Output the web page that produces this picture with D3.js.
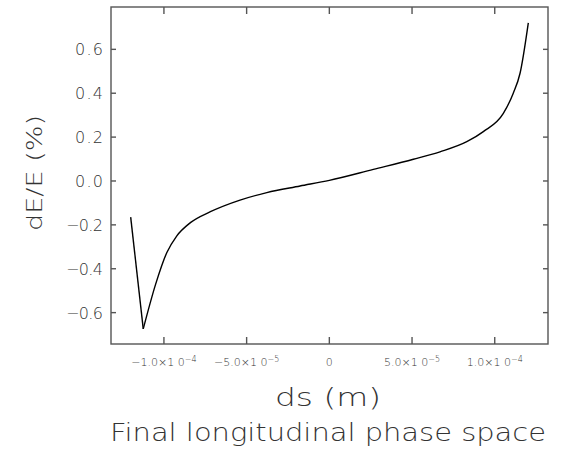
<!DOCTYPE html>
<html>
<head>
<meta charset="utf-8">
<script src="https://cdn.jsdelivr.net/npm/d3@7"></script>
<style>
  body { margin: 0; background: #fff; }
  text { font-family: "DejaVu Sans ExtraLight", "DejaVu Sans", sans-serif; font-weight: 200; fill: #333; }
</style>
</head>
<body>
<svg id="chart" width="567" height="449"></svg>
<script>
// curve: ds (m) vs dE/E (%)
const dsValues = [-1.201e-4, -1.125e-4, -1.05e-4, -9.83e-5, -9.23e-5, -8.40e-5, -7.19e-5, -5.40e-5, -3.78e-5, -1.77e-5, 0,
    2.66e-5, 5.08e-5, 6.69e-5, 8.31e-5, 9.31e-5, 1.052e-4, 1.112e-4, 1.153e-4, 1.203e-4];
const dEValues = [-0.165, -0.674, -0.470, -0.327, -0.251, -0.190, -0.140, -0.087, -0.053, -0.023, 0.003,
    0.053, 0.099, 0.133, 0.179, 0.225, 0.308, 0.400, 0.491, 0.721];

const xTicks = [-1e-4, -5e-5, 0, 5e-5, 1e-4];
const xTickMant = ["\u22121.0", "\u22125.0", "0", "5.0", "1.0"];
const xTickExp = ["\u22124", "\u22125", "", "\u22125", "\u22124"];
const yTicks = [-0.6, -0.4, -0.2, 0.0, 0.2, 0.4, 0.6];

const svg = d3.select("#chart");
const margin = { top: 7, right: 19, bottom: 105, left: 111 };
const width = +svg.attr("width") - margin.left - margin.right;
const height = +svg.attr("height") - margin.top - margin.bottom;

const g = svg.append("g").attr("transform", `translate(${margin.left},${margin.top})`);

const x = d3.scaleLinear().domain([-1.32e-4, 1.322e-4]).range([0, width]);
const y = d3.scaleLinear().domain([-0.743, 0.793]).range([height, 0]);

const data = dsValues.map((d, i) => ({ x: d, y: dEValues[i] }));

// frame
g.append("rect")
    .attr("width", width).attr("height", height)
    .attr("fill", "none").attr("stroke", "#555").attr("stroke-width", 1.4);

// ticks pointing inward on all four sides
const tickStyle = sel => sel.attr("stroke", "#555").attr("stroke-width", 1.4);
xTicks.forEach(t => {
    g.append("line").attr("x1", x(t)).attr("x2", x(t)).attr("y1", height).attr("y2", height - 7).call(tickStyle);
    g.append("line").attr("x1", x(t)).attr("x2", x(t)).attr("y1", 0).attr("y2", 7).call(tickStyle);
});
yTicks.forEach(t => {
    g.append("line").attr("x1", 0).attr("x2", 5).attr("y1", y(t)).attr("y2", y(t)).call(tickStyle);
    g.append("line").attr("x1", width).attr("x2", width - 5).attr("y1", y(t)).attr("y2", y(t)).call(tickStyle);
});

// y tick labels
g.selectAll(".ylab").data(yTicks).enter().append("text")
    .attr("class", "ylab")
    .attr("x", -8).attr("y", d => y(d) + 6)
    .attr("text-anchor", "end")
    .attr("textLength", d => d < 0 ? 37 : 28).attr("lengthAdjust", "spacing")
    .style("font-size", "16px")
    .text(d => (d < 0 ? "\u2212" : "") + Math.abs(d).toFixed(1));

// x tick labels with superscript exponents
xTicks.forEach((t, i) => {
    const txt = g.append("text")
        .attr("x", x(t)).attr("y", height + 22)
        .attr("text-anchor", "middle")
        .style("font-size", "11px");
    if (xTickExp[i] === "") {
        txt.text(xTickMant[i]);
    } else {
        txt.append("tspan").text(xTickMant[i] + "\u00d71 0");
        txt.append("tspan").attr("dy", -4).style("font-size", "8px").text(xTickExp[i]);
    }
});

// curve: straight drop into the minimum, smooth after it
const line = d3.line().x(d => x(d.x)).y(d => y(d.y));
g.append("path")
    .datum(data.slice(0, 2))
    .attr("fill", "none").attr("stroke", "#000").attr("stroke-width", 1.4)
    .attr("d", line);
g.append("path")
    .datum(data.slice(1))
    .attr("fill", "none").attr("stroke", "#000").attr("stroke-width", 1.4)
    .attr("d", line.curve(d3.curveMonotoneX));

// axis titles
svg.append("text")
    .attr("x", 328).attr("y", 406)
    .attr("text-anchor", "middle")
    .attr("textLength", 106).attr("lengthAdjust", "spacingAndGlyphs")
    .style("font-size", "25px")
    .text("ds (m)");

svg.append("text")
    .attr("transform", "translate(42,173) rotate(-90)")
    .attr("text-anchor", "middle")
    .attr("textLength", 116).attr("lengthAdjust", "spacingAndGlyphs")
    .style("font-size", "22px")
    .text("dE/E (%)");

svg.append("text")
    .attr("x", 110).attr("y", 441)
    .attr("textLength", 436).attr("lengthAdjust", "spacingAndGlyphs")
    .style("font-size", "24px")
    .text("Final longitudinal phase space");
</script>
</body>
</html>
